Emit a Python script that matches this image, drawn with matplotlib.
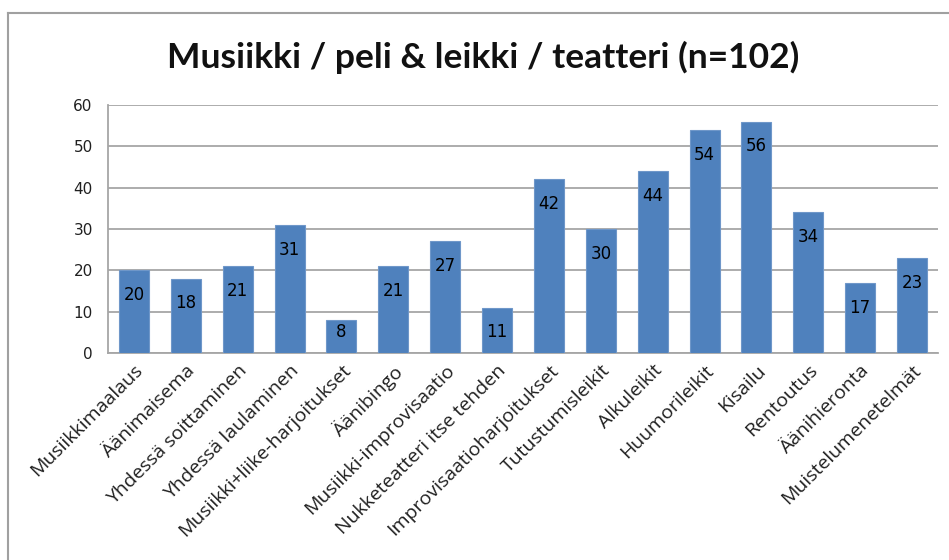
import matplotlib.pyplot as plt
from matplotlib.lines import Line2D
import numpy as np

# Aineisto
kategoriat = ["Musiikkimaalaus", "Äänimaisema", "Yhdessä soittaminen",
              "Yhdessä laulaminen", "Musiikki+liike-harjoitukset", "Äänibingo",
              "Musiikki-improvisaatio", "Nukketeatteri itse tehden",
              "Improvisaatioharjoitukset", "Tutustumisleikit", "Alkuleikit",
              "Huumorileikit", "Kisailu", "Rentoutus", "Äänihieronta",
              "Muistelumenetelmät"]
arvot = [20, 18, 21, 31, 8, 21, 27, 11, 42, 30, 44, 54, 56, 34, 17, 23]
y_tikit = [0, 10, 20, 30, 40, 50, 60]
otsikko = "Musiikki / peli & leikki / teatteri (n=102)"

fig = plt.figure(figsize=(9.49, 5.6), dpi=100)
ax = fig.add_axes([0.1138, 0.3696, 0.8746, 0.4429])

x = np.arange(len(kategoriat))
palkit = ax.bar(x, arvot, width=0.58, color="#4F81BD", edgecolor="#6F97C9",
                linewidth=0.8, zorder=3)

# arvot palkkien sisään, hieman yläreunan alapuolelle
for xi, v in zip(x, arvot):
    ax.text(xi, max(v - 6, 5), str(v), ha="center", va="center",
            fontsize=12, family="DejaVu Sans", color="black", zorder=4)

ax.set_xlim(-0.5, len(kategoriat) - 0.5)
ax.set_ylim(0, 60)
ax.set_yticks(y_tikit)
ax.set_xticks(x)
ax.set_xticklabels(kategoriat, rotation=45, ha="right", rotation_mode="anchor",
                   fontsize=14, family="Open Sans", color="#202020")
for lbl in ax.get_yticklabels():
    lbl.set_family("DejaVu Sans")
    lbl.set_fontsize(11)
    lbl.set_color("#202020")
ax.tick_params(axis="y", length=0, pad=11)
ax.tick_params(axis="x", length=0, pad=6)

ax.grid(axis="y", color="#A6A6A6", linewidth=1.3, zorder=0)
for s in ["top", "right"]:
    ax.spines[s].set_visible(False)
for s in ["left", "bottom"]:
    ax.spines[s].set_color("#A6A6A6")
    ax.spines[s].set_linewidth(1.3)

fig.text(0.509, 0.897, otsikko, ha="center", va="center", fontsize=25.5,
         fontweight="bold", family=["Lato", "DejaVu Sans"], color="#111111")

# ulompi kehys (vain ylä- ja vasen reuna näkyvissä)
fig.add_artist(Line2D([0.0085, 1.0], [0.977, 0.977], color="#A0A0A0", linewidth=1.5))
fig.add_artist(Line2D([0.0085, 0.0085], [0.0, 0.977], color="#A0A0A0", linewidth=1.5))

fig.savefig("out.png", dpi=100)
